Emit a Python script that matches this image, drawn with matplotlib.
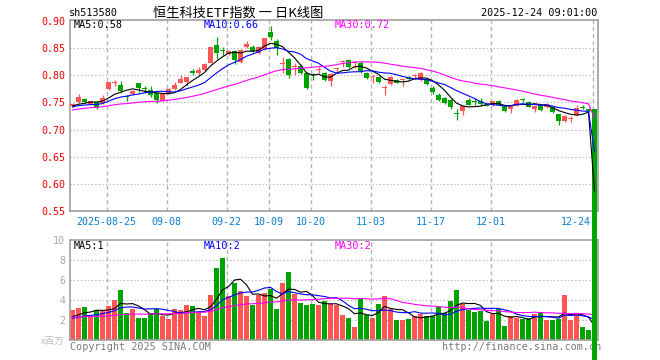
import matplotlib
matplotlib.use("Agg")
import matplotlib.pyplot as plt
import numpy as np
from matplotlib.patches import Rectangle

# ---------------- data ----------------
opens = [0.743, 0.751, 0.757, 0.747, 0.750, 0.749, 0.775, 0.785, 0.783, 0.761,
         0.766, 0.785, 0.776, 0.773, 0.767, 0.753, 0.768, 0.775, 0.786, 0.787,
         0.806, 0.804, 0.809, 0.823, 0.856, 0.846, 0.840, 0.844, 0.824, 0.852,
         0.853, 0.841, 0.848, 0.879, 0.864, 0.820, 0.830, 0.815, 0.818, 0.804,
         0.801, 0.810, 0.805, 0.790, 0.811, 0.825, 0.829, 0.822, 0.822, 0.805,
         0.797, 0.797, 0.776, 0.784, 0.792, 0.791, 0.797, 0.798, 0.792, 0.793,
         0.777, 0.763, 0.758, 0.755, 0.730, 0.735, 0.754, 0.753, 0.752, 0.746,
         0.746, 0.753, 0.744, 0.738, 0.744, 0.755, 0.750, 0.738, 0.746, 0.742,
         0.742, 0.728, 0.716, 0.719, 0.726, 0.741, 0.736, 0.737]
closes = [0.748, 0.760, 0.751, 0.752, 0.742, 0.758, 0.787, 0.786, 0.771, 0.760,
          0.771, 0.777, 0.774, 0.763, 0.754, 0.765, 0.775, 0.782, 0.793, 0.797,
          0.805, 0.810, 0.821, 0.853, 0.841, 0.845, 0.844, 0.829, 0.846, 0.858,
          0.844, 0.853, 0.868, 0.871, 0.850, 0.822, 0.801, 0.817, 0.805, 0.777,
          0.800, 0.812, 0.791, 0.803, 0.812, 0.826, 0.815, 0.823, 0.807, 0.795,
          0.798, 0.787, 0.777, 0.797, 0.786, 0.792, 0.794, 0.799, 0.805, 0.784,
          0.769, 0.755, 0.749, 0.742, 0.729, 0.743, 0.746, 0.751, 0.747, 0.744,
          0.752, 0.746, 0.734, 0.744, 0.755, 0.754, 0.742, 0.743, 0.736, 0.748,
          0.732, 0.716, 0.725, 0.720, 0.740, 0.740, 0.735, 0.0]
highs = [0.749, 0.766, 0.758, 0.753, 0.751, 0.763, 0.788, 0.792, 0.789, 0.764,
         0.773, 0.786, 0.780, 0.780, 0.768, 0.766, 0.777, 0.787, 0.800, 0.797,
         0.812, 0.816, 0.823, 0.853, 0.870, 0.853, 0.846, 0.846, 0.849, 0.864,
         0.855, 0.854, 0.869, 0.890, 0.866, 0.834, 0.832, 0.822, 0.821, 0.806,
         0.804, 0.816, 0.806, 0.804, 0.813, 0.829, 0.830, 0.826, 0.826, 0.806,
         0.801, 0.798, 0.783, 0.798, 0.794, 0.794, 0.799, 0.803, 0.806, 0.794,
         0.780, 0.767, 0.760, 0.756, 0.737, 0.744, 0.759, 0.758, 0.758, 0.747,
         0.753, 0.755, 0.745, 0.745, 0.756, 0.759, 0.752, 0.744, 0.747, 0.749,
         0.743, 0.729, 0.726, 0.725, 0.745, 0.746, 0.740, 0.737]
lows = [0.741, 0.749, 0.749, 0.745, 0.738, 0.748, 0.773, 0.780, 0.768, 0.752,
        0.763, 0.769, 0.768, 0.760, 0.749, 0.752, 0.766, 0.773, 0.785, 0.781,
        0.800, 0.800, 0.807, 0.822, 0.830, 0.838, 0.838, 0.820, 0.822, 0.850,
        0.842, 0.839, 0.846, 0.865, 0.838, 0.804, 0.795, 0.801, 0.803, 0.775,
        0.792, 0.804, 0.789, 0.780, 0.804, 0.816, 0.814, 0.813, 0.805, 0.794,
        0.785, 0.786, 0.763, 0.783, 0.785, 0.781, 0.792, 0.793, 0.789, 0.783,
        0.766, 0.752, 0.747, 0.737, 0.717, 0.726, 0.745, 0.746, 0.743, 0.743,
        0.743, 0.745, 0.733, 0.730, 0.743, 0.750, 0.741, 0.732, 0.735, 0.740,
        0.731, 0.708, 0.714, 0.714, 0.725, 0.737, 0.732, 0.0]
volumes = [3.0, 3.2, 3.3, 2.4, 3.0, 2.9, 3.4, 4.0, 5.0, 2.7,
           3.1, 2.2, 2.2, 2.7, 3.1, 2.4, 2.1, 3.1, 3.0, 3.5,
           3.4, 2.8, 2.4, 4.5, 7.2, 8.2, 4.4, 5.7, 4.9, 4.4,
           3.5, 4.5, 4.7, 5.1, 3.1, 5.7, 6.8, 4.6, 3.7, 3.5,
           3.6, 3.5, 3.9, 3.6, 3.5, 2.5, 2.2, 1.3, 4.1, 2.5,
           2.2, 3.6, 4.4, 3.1, 2.0, 2.0, 2.1, 2.4, 2.6, 2.4,
           2.4, 3.3, 2.7, 3.9, 5.0, 3.6, 3.0, 2.8, 2.9, 1.9,
           2.6, 3.1, 1.4, 2.4, 2.2, 2.1, 2.2, 2.6, 2.8, 2.0,
           2.0, 2.1, 4.5, 2.0, 2.7, 1.3, 1.0, 0.0]
# estimated closes / volumes of the 29 sessions before the window (for the MA lines)
prior_closes = [0.705, 0.712, 0.718, 0.722, 0.728, 0.731, 0.726, 0.733, 0.738, 0.735,
                0.742, 0.745, 0.748, 0.744, 0.740, 0.736, 0.739, 0.743, 0.741, 0.738,
                0.736, 0.740, 0.744, 0.739, 0.741, 0.744, 0.742, 0.740, 0.743]
prior_volumes = [2.6, 2.1, 1.9, 2.8, 2.4, 2.0, 2.5, 3.0, 2.2, 1.8,
                 2.3, 2.7, 2.1, 2.5, 2.4, 1.9, 2.6, 2.2, 2.0, 2.4,
                 2.3, 1.9, 2.0, 2.2, 1.8, 2.2, 2.3, 2.0, 2.1]

tick_idx = [6, 16, 26, 33, 40, 50, 60, 70, 87]
tick_labels = ["2025-08-25", "09-08", "09-22", "10-09", "10-20",
               "11-03", "11-17", "12-01", "12-24"]
price_ticks = [0.55, 0.60, 0.65, 0.70, 0.75, 0.80, 0.85, 0.90]
vol_ticks = [2, 4, 6, 8, 10]
ma_periods = [5, 10, 30]
price_ma_text = ["0.58", "0.66", "0.72"]
vol_ma_text = ["1", "2", "2"]

# ---------------- styling ----------------
W, H = 660, 360
RED = "#ff5555"
GREEN = "#00a400"
MA_COLORS = ["#000000", "#0000ff", "#ff00ff"]
MONO = "DejaVu Sans Mono"
CJK = ["Noto Sans CJK SC", "DejaVu Sans"]
GRIDC = "#b4b4b4"
SPINEC = "#a0a0a0"


def fx(px):
    return px / W


def fy(py):
    return 1 - py / H


def moving_average(prior, vals, p):
    full = np.array(list(prior) + list(vals), dtype=float)
    n0 = len(prior)
    return np.array([full[n0 + i - p + 1:n0 + i + 1].mean() for i in range(len(vals))])


n = len(closes)
x = np.arange(n)
bw = 5 / 6.0

fig = plt.figure(figsize=(W / 100, H / 100), dpi=100, facecolor="white")
axv = fig.add_axes([fx(70), fy(340), 527.5 / W, 100 / H], zorder=1)
ax = fig.add_axes([fx(70), fy(211), 527.5 / W, 191 / H], zorder=2)

for a in (ax, axv):
    a.set_xlim(-2.5 / 6, 87.5)
    for s in a.spines.values():
        s.set_color(SPINEC)
        s.set_linewidth(1.2)
    a.set_xticks([])
    a.tick_params(axis="y", length=0)
    for t in tick_idx:
        a.axvline(t - 0.3, color=GRIDC, lw=1.0, ls=(0, (3, 2.2)), zorder=0.5)

ax.set_ylim(0.55, 0.90 + 0.35 / 190)
axv.set_ylim(0, 10)

for v in price_ticks[1:-1]:
    ax.axhline(v, color="#a8a8a8", lw=0.8, ls=(0, (1, 2.2)), zorder=0.5)
for v in vol_ticks[:-1]:
    axv.axhline(v, color="#a8a8a8", lw=0.8, ls=(0, (1, 2.2)), zorder=0.5)

ax.set_yticks(price_ticks)
ax.set_yticklabels(["%.2f" % v for v in price_ticks], color="#ee0000",
                   fontsize=7.2, family=MONO)
ax.tick_params(axis="y", pad=3)
axv.set_yticks(vol_ticks)
axv.set_yticklabels([str(v) for v in vol_ticks], color="#a8a8a8",
                    fontsize=7.2, family=MONO)
axv.tick_params(axis="y", pad=3.5)

# ---------------- candles ----------------
min_h = 1.1 * 0.35 / 190
for i in range(n):
    o, c, h, l = opens[i], closes[i], highs[i], lows[i]
    col = RED if c >= o else GREEN
    last = (i == n - 1)
    ax.vlines(i, l, h, color=col, lw=0.9, zorder=3, clip_on=not last)
    bottom = min(o, c)
    height = max(abs(c - o), min_h)
    ax.add_patch(Rectangle((i - bw / 2, bottom), bw, height, facecolor=col,
                           edgecolor="none", lw=0, zorder=3, clip_on=not last))
    if volumes[i] > 0:
        axv.bar(i, volumes[i], width=bw, color=col, lw=0, zorder=2)

# ---------------- moving averages ----------------
for p, colr in zip(ma_periods, MA_COLORS):
    ax.plot(x, moving_average(prior_closes, closes, p), color=colr, lw=0.8, zorder=4)
    axv.plot(x, moving_average(prior_volumes, volumes, p), color=colr, lw=0.8, zorder=4)

# ---------------- texts ----------------
label_x = [74, 204, 334.7]
for k, p in enumerate(ma_periods):
    fig.text(fx(label_x[k]), fy(25.5), "MA%d:%s" % (p, price_ma_text[k]),
             color=MA_COLORS[k], fontsize=7.3, family=MONO, va="center", ha="left")
    fig.text(fx(label_x[k]), fy(246.3), "MA%d:%s" % (p, vol_ma_text[k]),
             color=MA_COLORS[k], fontsize=7.3, family=MONO, va="center", ha="left")

xt = ax.get_xaxis_transform()
for t, lab in zip(tick_idx, tick_labels):
    if t == tick_idx[-1]:
        ax.text(t - 0.3 - 2 / 6, -0.056, lab, transform=xt, ha="right", va="center",
                color="#0a7fd0", fontsize=7.2, family=MONO, clip_on=False)
    else:
        ax.text(t - 0.3, -0.056, lab, transform=xt, ha="center", va="center",
                color="#0a7fd0", fontsize=7.2, family=MONO, clip_on=False)

fig.text(fx(69), fy(13.3), "sh513580", fontsize=7.3, family=MONO, va="center", ha="left")
fig.text(fx(238), fy(13), "恒生科技ETF指数 一 日K线图", fontsize=9.5, family=CJK,
         va="center", ha="center")
fig.text(fx(597), fy(13.3), "2025-12-24 09:01:00", fontsize=7.3, family=MONO,
         va="center", ha="right")

fig.text(fx(65), fy(341), "x百万", fontsize=6.8, family=CJK, color="#bcbcbc",
         va="center", ha="right")
fig.text(fx(70), fy(346.5), "Copyright 2025 SINA.COM", fontsize=7.3, family=MONO,
         color="#7a7a7a", va="center", ha="left")
fig.text(fx(441.7), fy(346.5), "http://finance.sina.com.cn", fontsize=7.3, family=MONO,
         color="#7a7a7a", va="center", ha="left", zorder=1.5)

# watermark
fig.text(fx(578), fy(190), "◎", fontsize=8, color="#f2b5b5", va="center", ha="center",
         zorder=1.5)
fig.text(fx(578), fy(201), "sina", fontsize=10, color="#d0d0d0", style="italic",
         weight="bold", va="center", ha="center", zorder=1.5)

fig.savefig("out.png", dpi=100, facecolor="white")
